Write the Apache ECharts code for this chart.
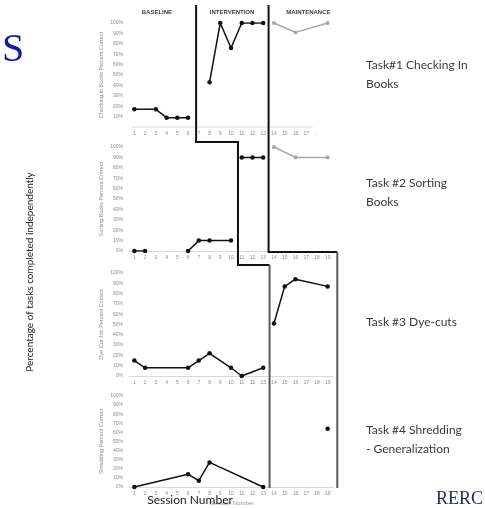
<!DOCTYPE html>
<html><head><meta charset="utf-8">
<script src="https://cdn.jsdelivr.net/npm/echarts@6/dist/echarts.min.js"></script>
<style>html,body{margin:0;padding:0;background:#fff}#c{width:485px;height:508px}</style>
</head><body><div id="c"></div>
<script>
// ---- data ----
const sessions = ['1','2','3','4','5','6','7','8','9','10','11','12','13','14','15','16','17','18','19'];
const yAxisNames = ['Checking In Books Percent Correct','Sorting Books Percent Correct','Dye Cut Job Percent Correct','Shredding Percent Correct'];
const phaseNames = ['BASELINE','INTERVENTION','MAINTENANCE'];
const phaseNameSessions = [3.1, 10.1, 17.2];
const taskLabels = [['Task#1 Checking In','Books'],['Task #2 Sorting','Books'],['Task #3 Dye-cuts'],['Task #4 Shredding','- Generalization']];
// phase-change lines (session units)
const phaseLineA = [6.75, 10.65, 13.5];
const phaseLineB = [13.5, 19.9];
const _ = null;
const t1Baseline     = [17,_,17,9,9,9,_,_,_,_,_,_,_,_,_,_,_,_,_];
const t1Intervention = [_,_,_,_,_,_,_,43,100,76,100,100,100,_,_,_,_,_,_];
const t1Maintenance  = [_,_,_,_,_,_,_,_,_,_,_,_,_,100,_,91,_,_,100];
const t2BaselineA    = [0,0,_,_,_,_,_,_,_,_,_,_,_,_,_,_,_,_,_];
const t2BaselineB    = [_,_,_,_,_,0,10,10,_,10,_,_,_,_,_,_,_,_,_];
const t2Intervention = [_,_,_,_,_,_,_,_,_,_,90,90,90,_,_,_,_,_,_];
const t2Maintenance  = [_,_,_,_,_,_,_,_,_,_,_,_,_,100,_,90,_,_,90];
const t3Baseline     = [15,8,_,_,_,8,15,22,_,8,0,_,8,_,_,_,_,_,_];
const t3Intervention = [_,_,_,_,_,_,_,_,_,_,_,_,_,51,87,94,_,_,87];
const t4Baseline     = [0,_,_,_,_,14,7,27,_,_,_,_,0,_,_,_,_,_,_];
const t4Intervention = [_,_,_,_,_,_,_,_,_,_,_,_,_,_,_,_,_,_,64];

// ---- layout ----
const grids = [
  {left:129, width:204, top:23, height:104},
  {left:129, width:204, top:147, height:104},
  {left:129, width:204, top:273, height:103},
  {left:129, width:204, top:396, height:91}
];
const LBL = '#8c8c8c';
const chart = echarts.init(document.getElementById('c'), null, {renderer:'canvas'});

const xAxes = grids.map((g,i)=>({
  type:'category', gridIndex:i, data:sessions, boundaryGap:true,
  axisLine:{show:i!==0, lineStyle:{color:'#d9d9d9', width:1}},
  axisTick:{show:false},
  axisLabel:{interval:0, fontSize:5, color:LBL, margin:4.5, fontFamily:'Liberation Sans',
    formatter:(v,idx)=> i===0 ? (idx<17 ? v : (idx===17 ? ':' : '')) : v}
}));
const yAxes = grids.map((g,i)=>({
  type:'value', gridIndex:i, min:0, max:100, interval:10,
  name:yAxisNames[i], nameLocation:'middle', nameGap:25, nameRotate:90,
  nameTextStyle:{fontSize:5.5, color:LBL, fontFamily:'Liberation Sans'},
  axisLine:{show:false}, axisTick:{show:false}, splitLine:{show:false},
  axisLabel:{fontSize:5, color:LBL, margin:6, fontFamily:'Liberation Sans',
    formatter:v=> (i===0 && v===0) ? '' : v+'%'}
}));

function ser(data, gi, gray, connect=true){
  return {type:'line', xAxisIndex:gi, yAxisIndex:gi, data, connectNulls:connect,
    symbol: gray ? 'rect' : 'circle', symbolSize: gray ? 3.5 : 4.5,
    itemStyle:{color: gray ? '#a6a6a6' : '#111'},
    lineStyle:{color: gray ? '#a6a6a6' : '#111', width:1.5},
    animation:false, z:3};
}
const series = [
  ser(t1Baseline,0), ser(t1Intervention,0), ser(t1Maintenance,0,true),
  ser(t2BaselineA,1), ser(t2BaselineB,1), ser(t2Intervention,1), ser(t2Maintenance,1,true),
  ser(t3Baseline,2), ser(t3Intervention,2),
  ser(t4Baseline,3), ser(t4Intervention,3)
];

chart.setOption({
  backgroundColor:'#fff', animation:false,
  grid:grids, xAxis:xAxes, yAxis:yAxes, series
});

// ---- annotations positioned through the axes ----
const p1 = chart.convertToPixel({xAxisIndex:0}, '1');
const p2 = chart.convertToPixel({xAxisIndex:0}, '2');
const w = p2 - p1;
const sx = s => p1 + (s-1)*w;
const y0 = i => chart.convertToPixel({yAxisIndex:i}, 0);
const y100 = i => chart.convertToPixel({yAxisIndex:i}, 100);

const g = [];
function line(pts, color){ g.push({type:'polyline', shape:{points:pts}, style:{stroke:color, lineWidth:2, fill:null}, z:10}); }
const topY = 5, botY = y0(3)+1;
// panel 1 short axis line
g.push({type:'line', shape:{x1:p1-w/2+3, y1:y0(0), x2:sx(17.6), y2:y0(0)}, style:{stroke:'#d9d9d9', lineWidth:1}, z:1});
// phase line A
const aS1 = y0(0)+15, aS2 = y0(1)+14;
line([[sx(phaseLineA[0]),topY],[sx(phaseLineA[0]),aS1],[sx(phaseLineA[1]),aS1],[sx(phaseLineA[1]),aS2],[sx(phaseLineA[2])+1,aS2]], '#111');
line([[sx(phaseLineA[2])+1,aS2],[sx(phaseLineA[2])+1,botY]], '#5a5a5a');
// phase line B
const bS = y0(1)+1;
line([[sx(phaseLineB[0]),topY],[sx(phaseLineB[0]),bS],[sx(phaseLineB[1]),bS]], '#111');
line([[sx(phaseLineB[1]),bS],[sx(phaseLineB[1]),botY]], '#5a5a5a');

// phase names
phaseNames.forEach((n,k)=>g.push({type:'text', x:sx(phaseNameSessions[k]), y:y100(0)-11,
  style:{text:n, fontSize:6, fontWeight:'bold', fill:'#404040', fontFamily:'Liberation Sans Narrow, Liberation Sans', textAlign:'center', textVerticalAlign:'middle'}}));

// right-hand task labels
const taskY = [65, 183, 322, 430];
taskLabels.forEach((lines,k)=>lines.forEach((t,j)=>g.push({type:'text', x:366, y:taskY[k]+j*19,
  style:{text:t, fontSize:12, fill:'#3a3a3a', fontFamily:'Lato', textAlign:'left', textVerticalAlign:'middle'}})));

// left title
g.push({type:'text', x:30, y:272, rotation:Math.PI/2,
  style:{text:'Percentage of tasks completed independently', fontSize:10, fill:'#222', fontFamily:'Lato', textAlign:'center', textVerticalAlign:'middle'}});
// session number
g.push({type:'text', x:232, y:503, style:{text:'Session Number', fontSize:6, fill:'#999', fontFamily:'Liberation Sans', textAlign:'center', textVerticalAlign:'middle'}});
g.push({type:'text', x:190, y:500, style:{text:'Session Number', fontSize:12, fill:'#1a1a1a', fontFamily:'Lato', textAlign:'center', textVerticalAlign:'middle'}});
// slide fragments
g.push({type:'text', x:2, y:50, style:{text:'S', fontSize:40, fill:'#0d1fa0', fontFamily:'Liberation Serif', textAlign:'left', textVerticalAlign:'middle'}});
g.push({type:'text', x:436, y:499, style:{text:'RERC', fontSize:18, fill:'#1c2a5e', fontFamily:'Liberation Serif', textAlign:'left', textVerticalAlign:'middle'}});

chart.setOption({graphic:g});
</script>
</body></html>
